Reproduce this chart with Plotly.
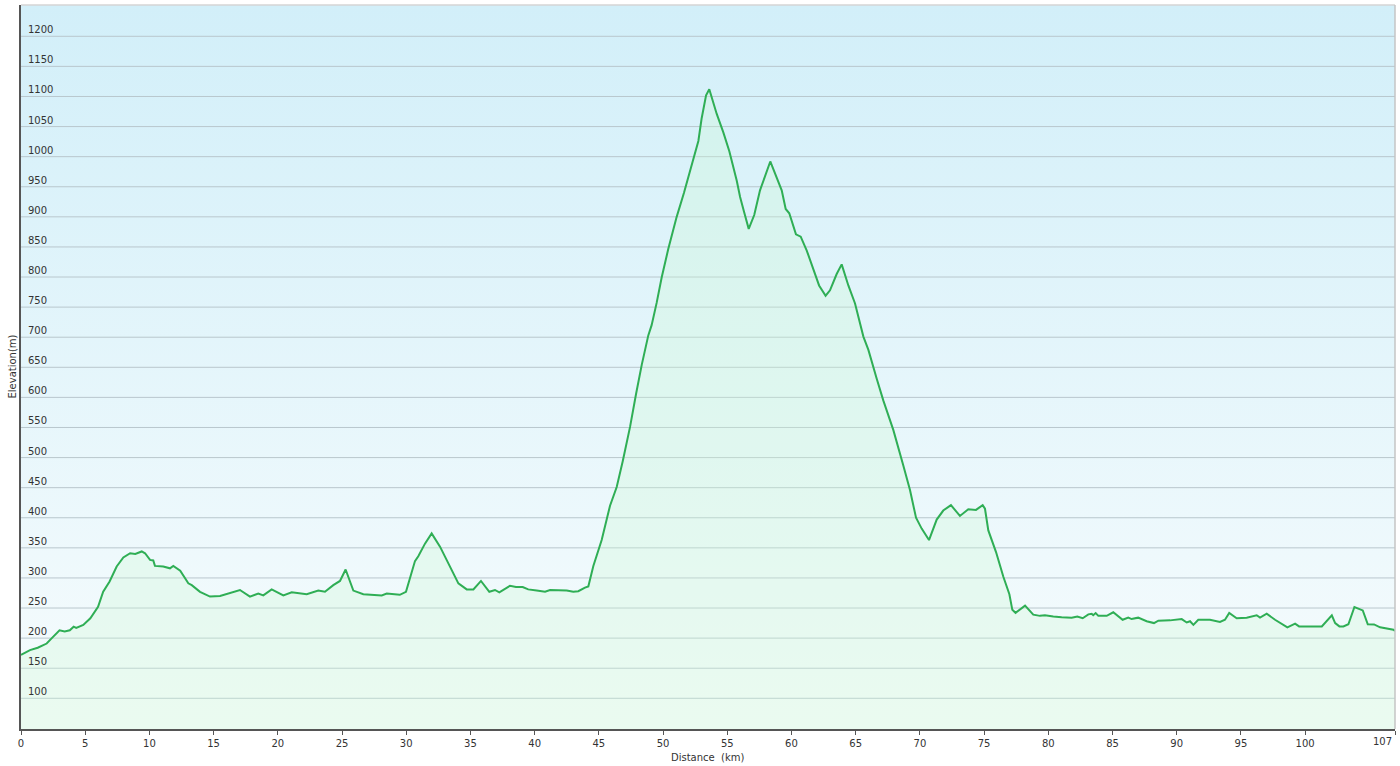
import plotly.graph_objects as go

# ---- data ----
distance_km = [
    0.0, 0.7, 1.3, 2.0, 2.4, 3.0, 3.4, 3.8, 4.1, 4.3, 4.85, 5.4, 6.0, 6.4, 6.9,
    7.45, 7.97, 8.5, 8.9, 9.4, 9.66, 10.05, 10.3, 10.43, 11.08, 11.6, 11.86,
    12.4, 13.03, 13.3, 13.94, 14.72, 15.5, 16.28, 17.05, 17.83, 18.48, 18.87,
    19.52, 20.43, 21.08, 22.25, 23.15, 23.67, 24.32, 24.84, 25.28, 25.88,
    26.66, 28.09, 28.48, 29.5, 29.98, 30.68, 30.94, 31.46, 31.98, 32.63,
    33.28, 34.06, 34.71, 35.23, 35.82, 36.47, 36.91, 37.25, 38.08, 38.55,
    39.07, 39.5, 40.16, 40.81, 41.2, 41.97, 42.5, 43.01, 43.4, 43.92, 44.18,
    44.57, 45.22, 45.87, 46.39, 46.86, 47.43, 47.9, 48.34, 48.85, 49.11,
    49.5, 49.9, 50.4, 51.06, 51.63, 52.1, 52.75, 53.0, 53.35, 53.6, 54.18,
    54.7, 55.16, 55.74, 56.0, 56.3, 56.67, 57.1, 57.55, 58.35, 58.98, 59.24,
    59.55, 59.83, 60.35, 60.72, 61.19, 62.15, 62.66, 63.0, 63.52, 63.91,
    64.43, 64.95, 65.6, 65.99, 66.64, 67.15, 67.93, 68.45, 68.71, 69.23,
    69.7, 70.14, 70.71, 71.31, 71.82, 72.42, 73.12, 73.77, 74.37, 74.89,
    75.07, 75.33, 75.93, 76.5, 76.97, 77.2, 77.45, 78.19, 78.83, 79.35,
    79.74, 80.39, 81.04, 81.82, 82.26, 82.68, 83.12, 83.38, 83.5, 83.69,
    83.9, 84.55, 85.06, 85.79, 86.23, 86.49, 87.0, 87.66, 88.23, 88.57,
    89.48, 90.39, 90.78, 91.04, 91.3, 91.68, 92.59, 93.37, 93.76, 94.09,
    94.67, 95.45, 96.23, 96.49, 97.01, 97.66, 98.62, 99.22, 99.53, 101.3,
    102.08, 102.34, 102.67, 102.98, 103.37, 103.84, 104.49, 104.88, 105.37,
    105.84, 106.88, 107.0,
]
elevation_m = [
    172, 180, 184, 191, 200, 213, 211, 213, 219, 217, 222, 233, 252, 277, 294,
    319, 334, 341, 340, 344, 341, 330, 329, 320, 319, 316, 320,
    312, 291, 288, 277, 269, 270, 275, 280, 269, 274, 271,
    281, 271, 276, 273, 279, 277, 288, 295, 314, 279,
    273, 271, 274, 272, 277, 328, 336, 357, 374, 352,
    324, 291, 281, 281, 295, 277, 280, 276, 287, 285,
    285, 281, 279, 277, 280, 279, 279, 277, 278, 284, 286,
    320, 363, 420, 451, 494, 551, 606, 654, 703, 720,
    757, 800, 846, 900, 940, 977, 1026, 1063, 1102, 1112, 1071,
    1040, 1009, 960, 933, 909, 880, 903, 944, 992, 960, 944,
    913, 906, 871, 867, 844, 786, 769, 778, 805, 821,
    786, 756, 701, 679, 631, 595, 546, 509, 487, 446,
    400, 382, 363, 397, 412, 421, 403, 414, 413, 421,
    415, 379, 343, 302, 273, 247, 242, 254, 239, 237,
    238, 236, 234.5, 234, 236, 233, 239.5, 240.5, 238, 241.7,
    237, 237, 243, 230.5, 234, 231.7, 234, 228, 225, 229,
    229.5, 231.7, 226, 228, 222, 230.5, 230.5, 227, 230.5, 241.7,
    233, 234, 238, 234, 240.5, 230.5, 218, 224, 219.5, 219.5,
    238, 225, 219.5, 219.5, 223, 251.7, 246, 223, 222.8,
    218, 214, 212,
]

x_tick_vals = [0, 5, 10, 15, 20, 25, 30, 35, 40, 45, 50, 55, 60, 65, 70, 75,
               80, 85, 90, 95, 100, 107]
x_tick_text = ["0", "5", "10", "15", "20", "25", "30", "35", "40", "45", "50",
               "55", "60", "65", "70", "75", "80", "85", "90", "95", "100", ""]
x_end_label = "107"
y_tick_vals = [100, 150, 200, 250, 300, 350, 400, 450, 500, 550, 600, 650,
               700, 750, 800, 850, 900, 950, 1000, 1050, 1100, 1150, 1200]

x_range = [0, 107]
y_range = [49, 1252]

x_title = "Distance\u00a0 (km)"
y_title = "Elevation(m)"

# ---- figure ----
fig = go.Figure()

# gradient background of the plot area
fig.add_trace(go.Scatter(
    x=[x_range[0], x_range[1], x_range[1], x_range[0], x_range[0]],
    y=[y_range[0], y_range[0], y_range[1], y_range[1], y_range[0]],
    mode="none", fill="toself",
    fillgradient=dict(type="vertical",
                      colorscale=[[0, "#f7fcfd"], [1, "#d2eff9"]]),
    hoverinfo="skip", showlegend=False,
))

# horizontal grid lines
gx, gy = [], []
for v in y_tick_vals:
    gx += [x_range[0], x_range[1], None]
    gy += [v, v, None]
fig.add_trace(go.Scatter(
    x=gx, y=gy, mode="lines",
    line=dict(color="#b9c7cd", width=1),
    hoverinfo="skip", showlegend=False,
))

# elevation profile
fig.add_trace(go.Scatter(
    x=distance_km, y=elevation_m, mode="lines",
    line=dict(color="#2fae55", width=2),
    fill="tozeroy", fillcolor="rgba(205,248,212,0.30)",
    showlegend=False,
))

annotations = []
for v in y_tick_vals:
    annotations.append(dict(
        x=0, xref="paper", y=v, yref="y", text=str(v), showarrow=False,
        xanchor="left", yanchor="bottom", xshift=5, yshift=-1,
        font=dict(family="DejaVu Sans", size=10, color="#333333"),
    ))
annotations.append(dict(
    x=x_range[1], xref="x", y=0, yref="paper", text=x_end_label,
    showarrow=False, xanchor="right", yanchor="top", yshift=-5, xshift=-1,
    font=dict(family="DejaVu Sans", size=10, color="#333333"),
))
annotations.append(dict(
    x=0.5, xref="paper", y=0, yref="paper", text=x_title, showarrow=False,
    xanchor="center", yanchor="top", yshift=-21,
    font=dict(family="DejaVu Sans", size=10, color="#333333"),
))
annotations.append(dict(
    x=0, xref="paper", y=0.5, yref="paper", text=y_title, showarrow=False,
    xanchor="right", yanchor="middle", xshift=-2, textangle=-90,
    font=dict(family="DejaVu Sans", size=10, color="#333333"),
))

shapes = [
    dict(type="line", xref="paper", yref="paper", x0=0, x1=1, y0=1, y1=1,
         line=dict(color="#d4d4d4", width=1.5)),
    dict(type="line", xref="paper", yref="paper", x0=1, x1=1, y0=0, y1=1,
         line=dict(color="#c4c4c4", width=1.5)),
]

fig.update_layout(
    width=1400, height=766,
    margin=dict(l=21, r=5, t=5, b=37),
    paper_bgcolor="white", plot_bgcolor="white",
    showlegend=False, hovermode=False,
    annotations=annotations, shapes=shapes,
    xaxis=dict(
        range=x_range, showgrid=False, zeroline=False,
        showline=True, linecolor="#555555", linewidth=2,
        ticks="outside", ticklen=4, tickcolor="#555555", tickwidth=1,
        tickvals=x_tick_vals, ticktext=x_tick_text,
        tickfont=dict(family="DejaVu Sans", size=10, color="#333333"),
        fixedrange=True,
    ),
    yaxis=dict(
        range=y_range, showgrid=False, zeroline=False,
        showline=True, linecolor="#555555", linewidth=2,
        showticklabels=False, ticks="",
        fixedrange=True,
    ),
)

fig.write_html(
    "out.html",
    config={"displayModeBar": False},
    post_script="document.body.style.margin='0';"
                "document.body.style.overflow='hidden';",
)
